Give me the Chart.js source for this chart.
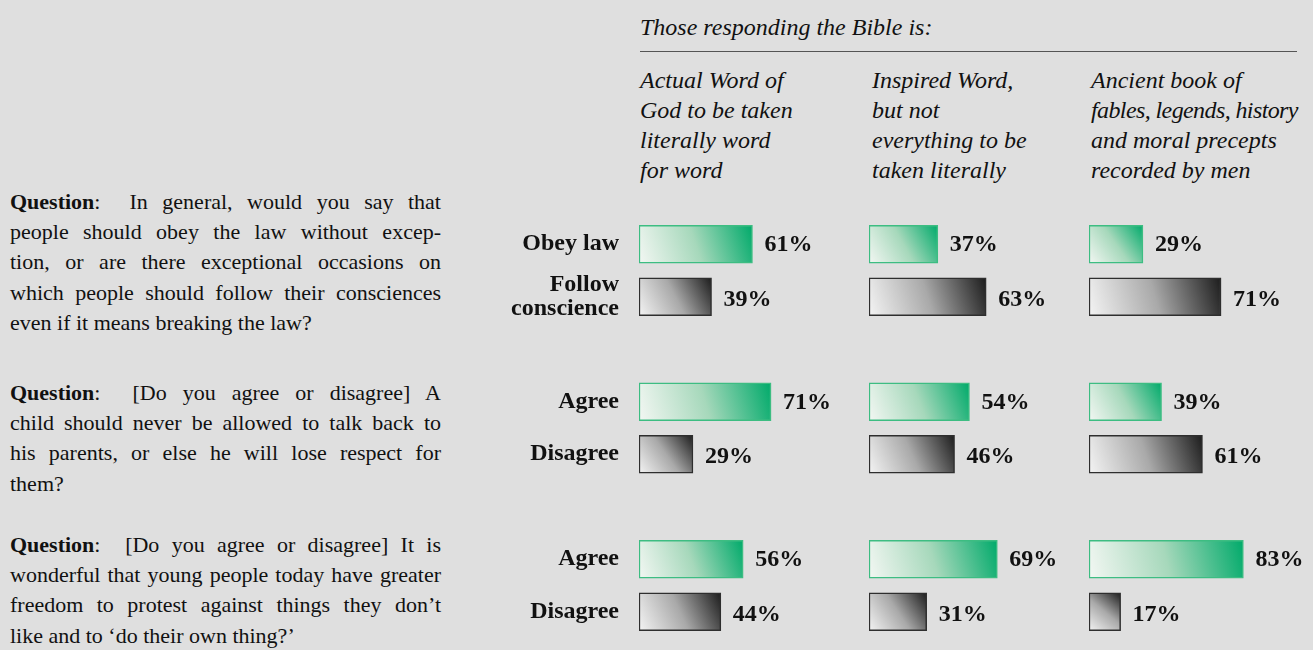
<!DOCTYPE html>
<html>
<head>
<meta charset="utf-8">
<script src="https://cdn.jsdelivr.net/npm/chart.js@4.4.1/dist/chart.umd.min.js"></script>
<style>
  html, body { margin: 0; padding: 0; background: #dfdfdf; }
  body { width: 1313px; height: 650px; position: relative; overflow: hidden; font-family: 'Liberation Serif', serif; color: #111; }
  .q { position: absolute; left: 10px; width: 431px; font-size: 22px; line-height: 30.2px; }
  .q div { text-align: justify; text-align-last: justify; }
  .q div.last { text-align: left; text-align-last: left; }
  .q b { font-weight: bold; }
  .hdr { position: absolute; font-style: italic; font-size: 24px; line-height: 30px; white-space: nowrap; }
  .rule { position: absolute; left: 640px; top: 51px; width: 657px; height: 0; border-top: 1.5px solid #555; }
  canvas { position: absolute; top: 0; }
</style>
</head>
<body>
<div class="hdr" style="left:640px; top:12px;">Those responding the Bible is:</div>
<div class="rule"></div>
<div class="hdr" id="h0" style="left:640px; top:65px;"></div>
<div class="hdr" id="h1" style="left:872px; top:65px;"></div>
<div class="hdr" id="h2" style="left:1091px; top:65px;"></div>

<div class="q" style="top:187px;">
  <div><b>Question</b>:&nbsp; In general, would you say that</div>
  <div>people should obey the law without excep-</div>
  <div>tion, or are there exceptional occasions on</div>
  <div>which people should follow their consciences</div>
  <div class="last">even if it means breaking the law?</div>
</div>
<div class="q" style="top:378px;">
  <div><b>Question</b>:&nbsp; [Do you agree or disagree] A</div>
  <div>child should never be allowed to talk back to</div>
  <div>his parents, or else he will lose respect for</div>
  <div class="last">them?</div>
</div>
<div class="q" style="top:530px;">
  <div><b>Question</b>:&nbsp; [Do you agree or disagree] It is</div>
  <div>wonderful that young people today have greater</div>
  <div>freedom to protest against things they don’t</div>
  <div class="last">like and to ‘do their own thing?’</div>
</div>

<canvas id="c0" width="395" height="650" style="left:470px;"></canvas>
<canvas id="c1" width="220" height="650" style="left:869px;"></canvas>
<canvas id="c2" width="224" height="650" style="left:1089px;"></canvas>

<script>
// ---- data ----
const columnHeaders = [
  ['Actual Word of', 'God to be taken', 'literally word', 'for word'],
  ['Inspired Word,', 'but not', 'everything to be', 'taken literally'],
  ['Ancient book of', 'fables, legends, history', 'and moral precepts', 'recorded by men']
];
const rowLabels = ['Obey law', ['Follow', 'conscience'], 'Agree', 'Disagree', 'Agree', 'Disagree'];
const actualWord   = [61, 39, 71, 29, 56, 44];
const inspiredWord = [37, 63, 54, 46, 69, 31];
const ancientBook  = [29, 71, 39, 61, 83, 17];

columnHeaders.forEach((lines, i) => {
  document.getElementById('h' + i).innerHTML = lines
    .map(t => t.length > 20 ? '<span style="letter-spacing:-0.6px">' + t + '</span>' : t)
    .join('<br>');
});

// insert an empty spacer slot between question groups (pairs of rows)
function withSpacers(arr, blank) {
  const out = [];
  arr.forEach((v, i) => {
    out.push(v);
    if (i % 2 === 1 && i < arr.length - 1) out.push(blank);
  });
  return out;
}
const categories = withSpacers(rowLabels, '');

const FONT = 'Liberation Serif';

function barFill(ctx) {
  const chart = ctx.chart;
  const v = ctx.raw;
  const green = ctx.dataIndex % 3 === 0;
  const fallback = green ? '#8fd2ae' : '#8a8a8a';
  if (v == null || !chart.scales || !chart.scales.x || !chart.scales.y) return fallback;
  const xs = chart.scales.x, ys = chart.scales.y;
  const x0 = xs.getPixelForValue(0), x1 = xs.getPixelForValue(v);
  const yc = ys.getPixelForValue(ctx.dataIndex);
  if (![x0, x1, yc].every(Number.isFinite)) return fallback;
  const g = chart.ctx.createLinearGradient(x0, yc + 19, x1, yc - 19);
  if (green) {
    g.addColorStop(0, '#f3f7f3');
    g.addColorStop(0.5, '#a6d8bb');
    g.addColorStop(1, '#00aa6a');
  } else {
    g.addColorStop(0, '#f4f4f4');
    g.addColorStop(0.5, '#a9a9a9');
    g.addColorStop(1, '#1c1c1c');
  }
  return g;
}
function barBorder(ctx) {
  return ctx.dataIndex % 3 === 0 ? '#3dbd82' : '#2e2e2e';
}

const valueLabels = {
  id: 'valueLabels',
  afterDatasetsDraw(chart) {
    const c = chart.ctx;
    const xs = chart.scales.x, ys = chart.scales.y;
    c.save();
    c.font = 'bold 24px "' + FONT + '"';
    c.fillStyle = '#111';
    c.textAlign = 'left';
    c.textBaseline = 'middle';
    chart.data.datasets[0].data.forEach((v, i) => {
      if (v == null) return;
      const x = xs.getPixelForValue(v) + 12;
      const y = ys.getPixelForValue(i) + (i % 3 === 0 ? 1 : 3);
      c.fillText(v + '%', x, y);
    });
    c.restore();
  }
};

function makeChart(id, values, showLabels, rightPad) {
  const yScale = {
    display: showLabels,
    grid: { display: false, drawTicks: false },
    border: { display: false },
    ticks: {
      padding: 20,
      color: '#111',
      font: { family: FONT, size: 24, weight: 'bold', lineHeight: 1.0 }
    }
  };
  if (showLabels) {
    yScale.afterFit = (scale) => {
      scale.width = 169;
      scale.paddingTop = 0;
      scale.paddingBottom = 0;
    };
  }
  return new Chart(document.getElementById(id), {
    type: 'bar',
    data: {
      labels: categories,
      datasets: [{
        data: withSpacers(values, null),
        backgroundColor: barFill,
        borderColor: barBorder,
        borderWidth: 1.5,
        borderSkipped: false,
        barThickness: 38
      }]
    },
    options: {
      indexAxis: 'y',
      responsive: false,
      animation: false,
      devicePixelRatio: 1,
      layout: { padding: { left: 0, right: rightPad, top: 218, bottom: 12 } },
      plugins: { legend: { display: false }, tooltip: { enabled: false } },
      scales: {
        x: { display: false, min: 0, max: 100 },
        y: yScale
      }
    },
    plugins: [valueLabels]
  });
}

const charts = [
  makeChart('c0', actualWord, true, 40),
  makeChart('c1', inspiredWord, false, 34),
  makeChart('c2', ancientBook, false, 38)
];
charts.forEach(ch => ch.update('none'));
</script>
</body>
</html>
